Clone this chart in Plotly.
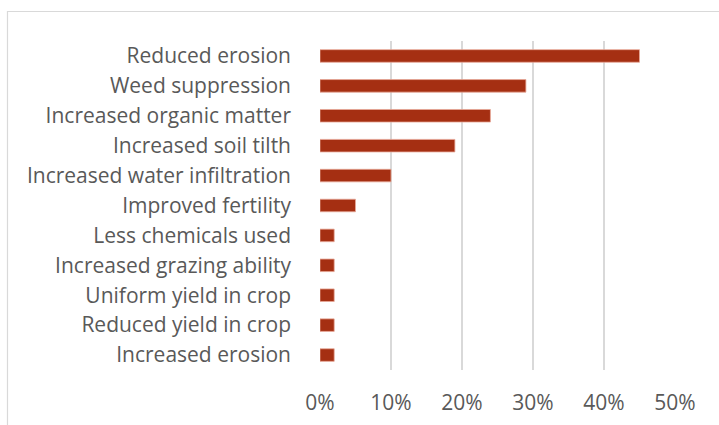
import plotly.graph_objects as go

categories = [
    "Reduced erosion",
    "Weed suppression",
    "Increased organic matter",
    "Increased soil tilth",
    "Increased water infiltration",
    "Improved fertility",
    "Less chemicals used",
    "Increased grazing ability",
    "Uniform yield in crop",
    "Reduced yield in crop",
    "Increased erosion",
]
values = [0.45, 0.29, 0.24, 0.19, 0.10, 0.05, 0.02, 0.02, 0.02, 0.02, 0.02]
tick_vals = [0, 0.1, 0.2, 0.3, 0.4, 0.5]
tick_text = ["0%", "10%", "20%", "30%", "40%", "50%"]

W, H = 719, 425
L, R, T, B = 320, 44, 41, 55
pw, ph = W - L - R, H - T - B

fig = go.Figure(go.Bar(
    x=values, y=categories, orientation="h",
    marker=dict(color="#A52F12", line=dict(color="#E8A898", width=0.8)),
    width=0.42,
))

def px_x(p):
    return (p - L) / pw

def px_y(p):
    return (H - B - p) / ph

fig.add_shape(type="rect", xref="paper", yref="paper",
              x0=px_x(7.5), x1=px_x(730), y0=px_y(440), y1=px_y(11.5),
              line=dict(color="#D9D9D9", width=1.2), layer="below")

fig.update_layout(
    width=W, height=H,
    margin=dict(l=L, r=R, t=T, b=B, autoexpand=False),
    paper_bgcolor="white", plot_bgcolor="white",
    font=dict(family="Open Sans", size=21, color="#595959"),
    showlegend=False,
    bargap=0.58,
)
fig.update_xaxes(range=[0, 0.5], tickvals=tick_vals, ticktext=tick_text,
                 showgrid=True, gridcolor="#D9D9D9", gridwidth=1.5,
                 zeroline=False, showline=False, ticks="", ticklabelstandoff=18,
                 tickfont=dict(size=21), automargin=False)
fig.update_yaxes(categoryorder="array", categoryarray=categories[::-1],
                 showgrid=False, showline=False, ticks="", ticklabelstandoff=28,
                 automargin=False)

fig.write_html("out.html", config={"displayModeBar": False},
               post_script="document.body.style.margin='0';document.body.style.overflow='hidden';")
